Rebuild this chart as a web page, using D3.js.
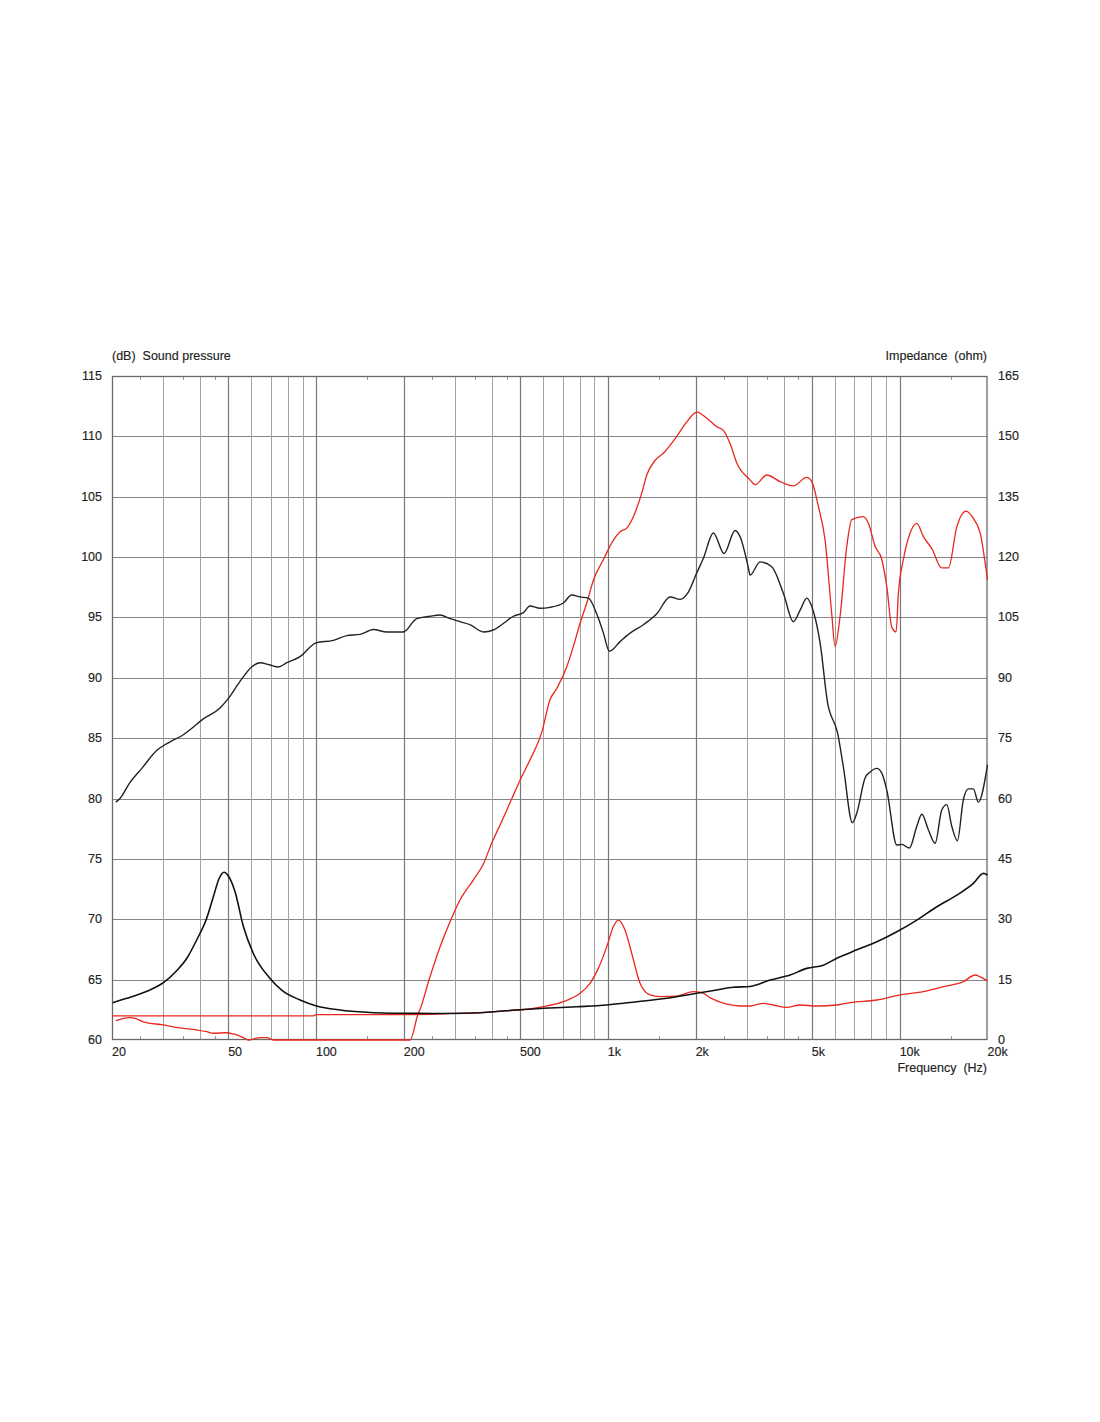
<!DOCTYPE html>
<html>
<head>
<meta charset="utf-8">
<script src="https://cdn.jsdelivr.net/npm/d3@7"></script>
<style>
  html, body { margin: 0; padding: 0; background: #fff; }
  text { font-family: "Liberation Sans", Arial, sans-serif; font-size: 12.5px; fill: #222; white-space: pre; stroke: #222; stroke-width: 0.15px; }
</style>
</head>
<body>
<svg id="chart" width="1100" height="1422"></svg>
<script>
// ---------- axis ticks ----------
const freqLabelTicks = [20, 50, 100, 200, 500, 1000, 2000, 5000, 10000, 20000];
const freqLabels = ["20", "50", "100", "200", "500", "1k", "2k", "5k", "10k", "20k"];
const freqMinorGrid = [30, 40, 60, 70, 80, 90, 300, 400, 600, 700, 800, 900, 3000, 4000, 6000, 7000, 8000, 9000];
const freqShortTicks = [25, 35, 45, 150, 250, 350, 450, 1500, 2500, 3500, 4500, 15000];
const splTicks = [60, 65, 70, 75, 80, 85, 90, 95, 100, 105, 110, 115];
const impTicks = [0, 15, 30, 45, 60, 75, 90, 105, 120, 135, 150, 165];

// ---------- series (frequency Hz, value) ----------
// Black: sound pressure level (dB), left axis
const splBlack = [
  [20.6,79.7],[21.3,80.0],[23.0,81.3],[25.3,82.5],[28.5,84.0],[31.6,84.7],[34.7,85.2],[37.0,85.7],
  [41.1,86.6],[46.9,87.5],[50.1,88.3],[54.9,89.7],[60.2,90.9],[64.3,91.25],[69.6,91.06],[74.3,90.9],
  [79.4,91.25],[88.2,91.75],[100,92.9],[114.6,93.1],[127.5,93.5],[141.5,93.6],[157.3,94.0],[174.8,93.8],
  [199.2,93.8],[221.4,94.9],[246,95.1],[266,95.2],[288,94.9],[311.6,94.65],[337,94.4],[375,93.8],
  [405,93.96],[438.6,94.5],[474.6,95.1],[513.6,95.4],[541,95.95],[586,95.76],[634,95.84],[704,96.2],
  [752,96.86],[803,96.7],[858,96.6],[916,95.3],[966,93.7],[1012,92.2],[1102,93.0],[1192,93.7],
  [1324,94.4],[1472,95.3],[1634,96.7],[1768,96.5],[1888,97.1],[2018,98.7],[2126,99.9],[2300,102.0],
  [2502,100.3],[2730,102.2],[2838,101.7],[3032,99.1],[3072,98.5],[3324,99.6],[3646,99.2],[3996,97.0],
  [4324,94.65],[4560,95.6],[4806,96.6],[5000,95.9],[5338,92.9],[5698,87.6],[5776,87.1],[6118,85.5],
  [6416,82.6],[6888,78.0],[7132,78.8],[7612,81.7],[7920,82.2],[8352,82.5],[8686,82.1],[9036,80.7],
  [9778,76.15],[10170,76.2],[10800,75.9],[11450,77.7],[11910,78.7],[12550,77.4],[13230,76.3],[13940,79.05],
  [14510,79.5],[15090,77.7],[15770,76.5],[16530,79.9],[17200,80.8],[17890,80.8],[18610,79.7],[20000,82.8]
];

// Red: sound pressure level (dB), left axis (values at the floor are drawn on the 60 dB line)
const splRed = [
  [20.6,61.6],[23.0,61.85],[24.0,61.8],[25.6,61.5],[30.0,61.25],[34.2,61.0],[39.0,60.83],[42.2,60.69],
  [44.5,60.56],[49.4,60.6],[52.1,60.5],[56.4,60.2],[58.6,60.0],[64.3,60.2],[67.8,60.2],[71.4,60.0],
  [100,60.0],[150,60.0],[210,60.0],[224,62.2],[227,62.5],[242.7,64.8],[266,67.7],[288,69.8],
  [311.6,71.6],[346,73.25],[375,74.6],[400,76.3],[433,78.1],[469,80.0],[500,81.5],[541,83.2],
  [594,85.5],[634,88.2],[668,89.1],[723,90.9],[762,92.6],[803,94.5],[847,96.2],[893,98.1],
  [966,99.8],[1045,101.4],[1102,102.1],[1161,102.4],[1223,103.35],[1307,105.3],[1360,106.8],[1451,108.0],
  [1550,108.6],[1723,110.0],[1864,111.2],[2018,112.0],[2184,111.5],[2362,110.8],[2489,110.5],[2624,109.4],
  [2766,107.8],[3072,106.4],[3196,106.0],[3506,106.8],[3892,106.25],[4324,105.9],[4806,106.6],[5000,106.25],
  [5266,104.2],[5552,101.4],[5852,95.3],[6008,92.6],[6250,95.1],[6590,100.9],[6856,103.1],[7510,103.35],
  [7814,102.8],[8238,100.9],[8686,99.8],[9036,97.55],[9398,94.2],[9724,93.8],[9902,97.0],[10300,99.8],
  [10860,102.0],[11450,102.8],[12060,101.7],[12890,100.7],[13940,99.1],[14690,99.1],[15700,102.5],[16890,103.8],
  [17890,103.2],[18870,102.0],[20000,98.1]
];

// Black: impedance (ohm), right axis
const impBlack = [
  [20.1,9.27],[22.5,10.36],[24.9,11.43],[27.0,12.43],[30.0,14.24],[33.3,17.22],[36.1,20.3],[39.0,24.85],
  [42.0,29.8],[44.5,35.6],[46.6,40.2],[48.4,41.7],[50.1,40.75],[52.8,36.85],[56.4,28.2],[61.0,21.5],
  [69.6,15.3],[76.3,12.4],[88.2,9.94],[100.5,8.45],[120.9,7.46],[149,6.88],[194,6.63],[252,6.6],
  [288,6.6],[365,6.78],[451,7.28],[601,7.88],[783,8.27],[992,8.7],[1257,9.52],[1592,10.36],
  [2018,11.6],[2362,12.43],[2692,13.1],[3072,13.3],[3598,14.9],[4212,16.15],[4806,17.8],[5478,18.6],
  [6090,20.3],[7132,22.4],[8352,24.4],[9778,26.9],[11450,29.8],[13410,33.1],[15700,36.0],[17890,38.9],
  [19370,41.4],[20000,41.0]
];

// Red: impedance (ohm), right axis
const impRed = [
  [20,6.0],[60,6.0],[98,6.0],[100,6.3],[180,6.3],[250,6.4],[288,6.6],[365,6.8],[451,7.3],
  [500,7.46],[601,8.27],[704,9.52],[803,11.6],[869,14.1],[928,17.8],[992,23.2],[1045,28.2],[1087,29.8],
  [1146,27.3],[1208,21.5],[1290,14.1],[1396,11.2],[1510,10.8],[1723,10.9],[1964,12.0],[2098,11.75],
  [2254,10.4],[2556,8.9],[2838,8.45],[3072,8.45],[3412,9.1],[3692,8.7],[4104,8.1],[4560,8.7],
  [5200,8.45],[6090,8.7],[6762,9.3],[8352,9.94],[10040,11.2],[12060,12.0],[14130,13.25],[16530,14.5],
  [18140,16.15],[18870,15.7],[20000,14.7]
];

// ---------- layout ----------
const L = 112, R = 987.5, T = 376, B = 1040;
const svg = d3.select("#chart");

const x = d3.scaleLog().domain([20, 20000]).range([L, R]);
const yL = d3.scaleLinear().domain([60, 115]).range([B, T]).clamp(true);
const yR = d3.scaleLinear().domain([0, 165]).range([B, T]).clamp(true);

const g = svg.append("g");

// horizontal grid
g.append("g").selectAll("line").data(splTicks.slice(1, -1)).join("line")
  .attr("x1", L).attr("x2", R)
  .attr("y1", d => Math.round(yL(d)) + 0.5).attr("y2", d => Math.round(yL(d)) + 0.5)
  .attr("stroke", "#858585").attr("stroke-width", 1);

// minor vertical grid
g.append("g").selectAll("line").data(freqMinorGrid).join("line")
  .attr("x1", d => Math.round(x(d)) + 0.5).attr("x2", d => Math.round(x(d)) + 0.5)
  .attr("y1", T).attr("y2", B)
  .attr("stroke", "#a3a3a3").attr("stroke-width", 1);

// major vertical grid
g.append("g").selectAll("line").data(freqLabelTicks.slice(1, -1)).join("line")
  .attr("x1", d => Math.round(x(d)) + 0.5).attr("x2", d => Math.round(x(d)) + 0.5)
  .attr("y1", T).attr("y2", B)
  .attr("stroke", "#777").attr("stroke-width", 1.2);

// short ticks top & bottom
g.append("g").selectAll("line").data(freqShortTicks).join("line")
  .attr("x1", d => Math.round(x(d)) + 0.5).attr("x2", d => Math.round(x(d)) + 0.5)
  .attr("y1", T).attr("y2", T + 4).attr("stroke", "#999");
g.append("g").selectAll("line").data(freqShortTicks).join("line")
  .attr("x1", d => Math.round(x(d)) + 0.5).attr("x2", d => Math.round(x(d)) + 0.5)
  .attr("y1", B - 4).attr("y2", B).attr("stroke", "#999");

// frame
g.append("rect").attr("x", L + 0.5).attr("y", T + 0.5)
  .attr("width", R - L - 1).attr("height", B - T - 1)
  .attr("fill", "none").attr("stroke", "#6a6a6a").attr("stroke-width", 1.3);

// curves
const lineL = d3.line().x(d => x(d[0])).y(d => yL(d[1])).curve(d3.curveMonotoneX);
const lineR = d3.line().x(d => x(d[0])).y(d => yR(d[1])).curve(d3.curveMonotoneX);

g.append("path").datum(splRed).attr("d", lineL)
  .attr("fill", "none").attr("stroke", "#e8281f").attr("stroke-width", 1.3);
g.append("path").datum(impRed).attr("d", lineR)
  .attr("fill", "none").attr("stroke", "#e8281f").attr("stroke-width", 1.3);
g.append("path").datum(impBlack).attr("d", lineR)
  .attr("fill", "none").attr("stroke", "#111").attr("stroke-width", 1.6);
g.append("path").datum(splBlack).attr("d", lineL)
  .attr("fill", "none").attr("stroke", "#222").attr("stroke-width", 1.4);

// left axis labels
g.append("g").selectAll("text").data(splTicks).join("text")
  .attr("x", 102).attr("y", d => yL(d) + 4)
  .attr("text-anchor", "end").text(d => d);

// right axis labels
g.append("g").selectAll("text").data(impTicks).join("text")
  .attr("x", 998).attr("y", d => yR(d) + 4)
  .attr("text-anchor", "start").text(d => d);

// bottom labels
g.append("g").selectAll("text").data(freqLabelTicks).join("text")
  .attr("x", d => x(d)).attr("y", 1056)
  .attr("text-anchor", "start").text((d, i) => freqLabels[i]);

// titles
svg.append("text").attr("x", 112).attr("y", 360).text("(dB)  Sound pressure");
svg.append("text").attr("x", 987).attr("y", 360).attr("text-anchor", "end").text("Impedance  (ohm)");
svg.append("text").attr("x", 987).attr("y", 1072).attr("text-anchor", "end").text("Frequency  (Hz)");
</script>
</body>
</html>
